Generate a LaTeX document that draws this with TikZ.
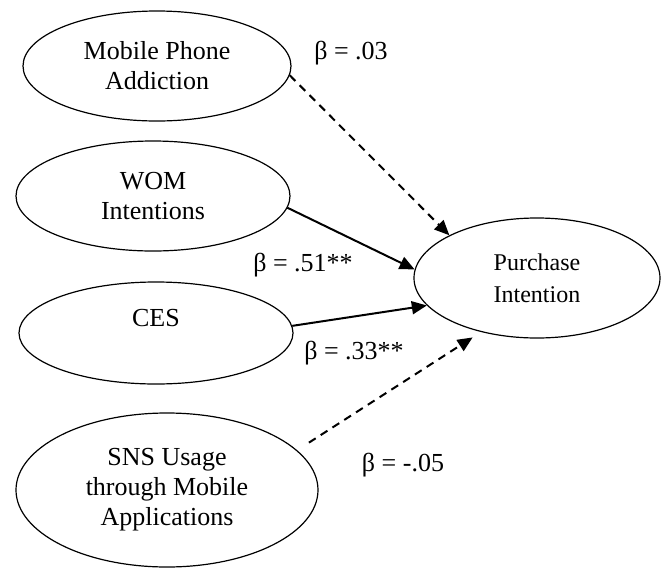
\documentclass[tikz,border=0pt]{standalone}
\usepackage{fontspec}
\setmainfont{Liberation Serif}
\usetikzlibrary{shapes.geometric,arrows.meta}

\def \lw {1pt}

\begin{document}
\begin{tikzpicture}[x=0.5pt, y=-0.5pt,
  construct/.style={draw, ellipse, line width=0.6pt, inner sep=0pt, align=center,
    font=\fontsize{13}{15}\selectfont},
  path/.style={line width=\lw, -{Triangle[length=7.5pt, width=6.5pt]}},
  nonsig/.style={path, dash pattern=on 4pt off 3pt},
  beta/.style={font=\fontsize{13}{15}\selectfont}]
\useasboundingbox (0,0) rectangle (661,569);

\node[construct, minimum width=134pt, minimum height=55pt] (addict) at (157,66) {Mobile Phone\\Addiction};
\node[construct, minimum width=137pt, minimum height=55pt] (wom) at (153,196) {WOM\\Intentions};
\node[construct, minimum width=137pt, minimum height=51pt] (ces) at (156,333) {CES\\~};
\node[construct, minimum width=151pt, minimum height=77pt] (sns) at (167,490) {SNS Usage\\through Mobile\\Applications};
\node[construct, minimum width=123pt, minimum height=60pt, font=\fontsize{12}{16}\selectfont] (purchase) at (537,278) {Purchase\\Intention};

% paths
\draw[nonsig] (addict.-4) -- (purchase.154);
\draw[path] (wom.-5) -- (purchase.176);
\draw[path] (ces.3) -- (purchase.194);
\draw[nonsig, shorten <=7pt, shorten >=5pt] (sns.17) -- (purchase.224);

% coefficients
\node[beta] (b1) at (351,53) {β = .03};
\node[beta] (b2) at (303,265) {β = .51**};
\node[beta] (b3) at (354,353) {β = .33**};
\node[beta] (b4) at (403,465) {β = -.05};
\end{tikzpicture}
\end{document}
